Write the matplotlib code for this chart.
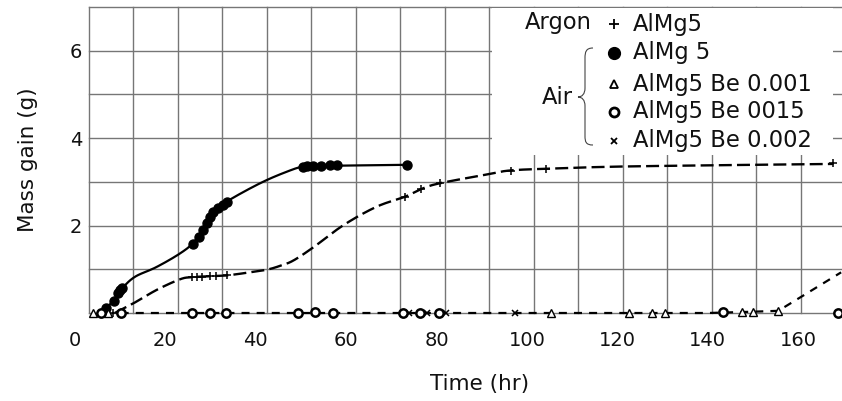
import numpy as np
import matplotlib
matplotlib.use("Agg")
import matplotlib.pyplot as plt
from matplotlib.path import Path
from matplotlib.patches import PathPatch, Rectangle

plt.rcParams['font.family'] = ['DejaVu Sans']

# ---------------- data ----------------
# Argon, AlMg5 (+)
argon_t = [8.5, 25.8, 26.9, 28.0, 29.9, 31.3, 33.6, 73.0, 76.5, 80.8, 96.4, 104.2, 167.8]
argon_m = [0.0, 0.82, 0.82, 0.83, 0.84, 0.85, 0.86, 2.66, 2.84, 2.97, 3.25, 3.30, 3.42]
argon_curve_t = [8.8, 12.9, 18.1, 23.2, 25.8, 30.0, 33.6, 38.0, 42.4, 45.4, 48.3, 52.7,
                 59.4, 66.7, 73.0, 76.7, 80.8, 91.7, 96.2, 104.2, 120.6, 150.0, 167.8]
argon_curve_m = [0.0, 0.22, 0.53, 0.77, 0.82, 0.84, 0.86, 0.92, 0.99, 1.08, 1.20, 1.50,
                 2.01, 2.43, 2.66, 2.84, 2.97, 3.18, 3.26, 3.30, 3.35, 3.39, 3.41]

# Air, AlMg 5 (filled circles)
air_t = [6.8, 8.6, 9.5, 10.0, 10.5, 26.2, 27.5, 28.4, 29.1, 29.9, 30.6, 31.7, 32.7, 33.6,
         50.4, 51.4, 52.6, 54.4, 56.4, 58.0, 73.4]
air_m = [0.12, 0.27, 0.45, 0.52, 0.57, 1.58, 1.75, 1.90, 2.05, 2.20, 2.31, 2.41, 2.48, 2.53,
         3.35, 3.36, 3.36, 3.37, 3.38, 3.38, 3.39]
air_curve_t = [6.5, 8.7, 10.5, 13.3, 18.0, 23.2, 26.3, 29.0, 31.5, 33.6, 38.0, 42.4, 46.8,
               50.0, 53.0, 58.0, 73.4]
air_curve_m = [0.08, 0.30, 0.57, 0.83, 1.05, 1.36, 1.62, 2.02, 2.38, 2.55, 2.81, 3.04, 3.23,
               3.34, 3.36, 3.37, 3.39]

# Air, AlMg5 Be 0.001 (triangles)
be1_t = [4.0, 7.4, 105.2, 122.6, 127.6, 130.5, 147.5, 150.1, 155.6]
be1_m = [0.0, 0.0, 0.0, 0.01, 0.01, 0.01, 0.03, 0.03, 0.05]
be1_line_t = [10.1, 140.0, 150.1, 155.6, 169.5]
be1_line_m = [0.0, 0.0, 0.03, 0.05, 0.93]

# Air, AlMg5 Be 0015 (open circles)
be15_t = [5.7, 10.1, 25.8, 29.9, 33.3, 49.4, 53.2, 57.1, 72.5, 76.3, 80.6, 143.4, 168.9]
be15_m = [0.0, 0.0, 0.0, 0.0, 0.0, 0.0, 0.02, 0.0, 0.01, 0.01, 0.0, 0.03, 0.0]

# Air, AlMg5 Be 0.002 (x)
be2_t = [74.0, 77.9, 82.1, 97.3]
be2_m = [0.0, 0.0, 0.0, 0.0]

x_ticks = [0, 20, 40, 60, 80, 100, 120, 140, 160]
y_ticks = [2, 4, 6]
legend_labels = ["AlMg5", "AlMg 5", "AlMg5 Be 0.001", "AlMg5 Be 0015", "AlMg5 Be 0.002"]

# ---------------- helpers ----------------
W, H = 842, 401
XSCALE, YSCALE = 4.52, 43.7   # px per unit


def smooth(x, y, n=24):
    """Catmull-Rom curve through the given points (rendering only)."""
    x = np.asarray(x, float)
    y = np.asarray(y, float) * (YSCALE / XSCALE)
    P = np.column_stack([x, y])
    P = np.vstack([2 * P[0] - P[1], P, 2 * P[-1] - P[-2]])
    out = []
    for i in range(1, len(P) - 2):
        p0, p1, p2, p3 = P[i - 1], P[i], P[i + 1], P[i + 2]
        s = np.linspace(0, 1, n, endpoint=False)[:, None]
        c = 0.5 * ((2 * p1) + (-p0 + p2) * s + (2 * p0 - 5 * p1 + 4 * p2 - p3) * s ** 2
                   + (-p0 + 3 * p1 - 3 * p2 + p3) * s ** 3)
        out.append(c)
    out.append(P[-2][None, :])
    c = np.vstack(out)
    return c[:, 0], c[:, 1] * (XSCALE / YSCALE)


def F(px, py):
    return px / W, 1 - py / H


# ---------------- figure ----------------
fig = plt.figure(figsize=(W / 100, H / 100), dpi=100)
ax_left, ax_bottom = 75 / W, 1 - 313 / H
ax_w = (W - 75) / W
ax_h = (313 - 7) / H
ax = fig.add_axes([ax_left, ax_bottom, ax_w, ax_h])
xmax = (W - 75) / XSCALE
ax.set_xlim(0, xmax)
ax.set_ylim(0, 7)

grid_c = '#767676'
x0 = 3.1
for gx in x0 + 9.84 * np.arange(17):
    ax.plot([gx, gx], [0, 7], color=grid_c, lw=1.0, zorder=1, clip_on=False)
for gy in range(8):
    ax.plot([x0, xmax], [gy, gy], color=grid_c, lw=1.0, zorder=1, clip_on=False)

for s in ax.spines.values():
    s.set_visible(False)

ax.set_xticks(x_ticks)
ax.set_xticklabels([str(v) for v in x_ticks])
ax.set_yticks(y_ticks)
ax.set_yticklabels([str(v) for v in y_ticks])
ax.spines['left'].set_position(('data', x0))
ax.tick_params(axis='both', length=0, labelsize=14, colors='#111111')
ax.tick_params(axis='x', pad=13)
ax.tick_params(axis='y', pad=5)

# curves
cx, cy = smooth(air_curve_t, air_curve_m)
ax.plot(cx, cy, color='black', lw=1.6, zorder=3)
cx, cy = smooth(argon_curve_t, argon_curve_m)
ax.plot(cx, cy, color='black', lw=1.7, dashes=(5.5, 2.2), zorder=3)
ax.plot(be1_line_t, be1_line_m, color='black', lw=1.6, dashes=(3.6, 3.2), zorder=3,
        clip_on=False)

# markers
ax.plot(argon_t, argon_m, ls='none', marker='+', ms=6, mew=1.1, color='black', zorder=4,
        clip_on=False)
ax.plot(air_t, air_m, ls='none', marker='o', ms=6.5, color='black', zorder=4, clip_on=False)
ax.plot(be1_t, be1_m, ls='none', marker='^', ms=5.5, mew=1.0, mfc='white', mec='black',
        zorder=4, clip_on=False)
ax.plot(be15_t, be15_m, ls='none', marker='o', ms=6, mew=1.8, mfc='white', mec='black',
        zorder=4, clip_on=False)
ax.plot(be2_t, be2_m, ls='none', marker='x', ms=4, mew=1.1, color='black', zorder=4,
        clip_on=False)

# legend block (white box, markers, labels, brace)
(bx0, by0) = F(492, 155)
(bx1, by1) = F(833, 8)
fig.patches.append(Rectangle((bx0, by0), bx1 - bx0, by1 - by0, transform=fig.transFigure,
                             facecolor='white', edgecolor='none', zorder=5))
rows_py = [24, 53, 84, 112, 141]
styles = [dict(marker='+', ms=7, mew=1.3, color='black'),
          dict(marker='o', ms=8.5, color='black'),
          dict(marker='^', ms=6, mew=1.3, mfc='white', mec='black'),
          dict(marker='o', ms=6.5, mew=2.0, mfc='white', mec='black'),
          dict(marker='x', ms=5, mew=1.3, color='black')]
for lab, py, st in zip(legend_labels, rows_py, styles):
    mx, my = F(614, py)
    fig.add_artist(plt.Line2D([mx], [my], ls='none', transform=fig.transFigure, zorder=6, **st))
    tx, ty = F(633, py)
    fig.text(tx, ty, lab, fontsize=16.3, va='center', ha='left', color='#111111', zorder=6)

ax_t = F(592, 23)
fig.text(ax_t[0], ax_t[1], "Argon", fontsize=16.3, va='center', ha='right', color='#111111',
         zorder=6)
air_pos = F(557, 97)
fig.text(air_pos[0], air_pos[1], "Air", fontsize=16.3, va='center', ha='center',
         color='#111111', zorder=6)

brace_px = [(593, 48), (586, 48), (585, 52), (585, 58), (585, 88), (585, 94), (582, 97),
            (578, 97), (582, 97), (585, 100), (585, 106), (585, 136), (585, 142), (586, 145),
            (593, 145)]
codes = [Path.MOVETO, Path.CURVE4, Path.CURVE4, Path.CURVE4, Path.LINETO, Path.CURVE4,
         Path.CURVE4, Path.CURVE4, Path.CURVE4, Path.CURVE4, Path.CURVE4, Path.LINETO,
         Path.CURVE4, Path.CURVE4, Path.CURVE4]
brace = Path([F(*p) for p in brace_px], codes)
fig.patches.append(PathPatch(brace, transform=fig.transFigure, facecolor='none',
                             edgecolor='#444444', lw=0.8, zorder=6))

# axis titles
p = F(28, 160)
fig.text(p[0], p[1], "Mass gain (g)", rotation=90, fontsize=15.5, ha='center', va='center',
         color='#111111')
p = F(480, 384)
fig.text(p[0], p[1], "Time (hr)", fontsize=15.5, ha='center', va='center', color='#111111')

fig.savefig("out.png", dpi=100)
